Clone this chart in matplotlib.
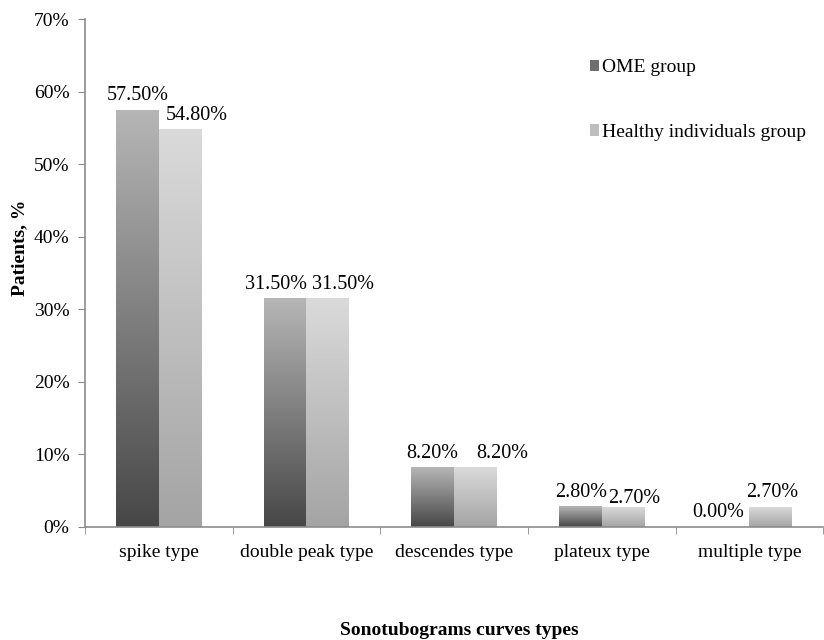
import numpy as np
import matplotlib.pyplot as plt
from matplotlib.patches import Rectangle
from matplotlib.colors import LinearSegmentedColormap

plt.rcParams['font.family'] = ['Liberation Serif', 'DejaVu Serif']

categories = ['spike type', 'double peak type', 'descendes type', 'plateux type', 'multiple type']
ome_group = [57.5, 31.5, 8.2, 2.8, 0.0]
healthy_group = [54.8, 31.5, 8.2, 2.7, 2.7]
series_names = ['OME group', 'Healthy individuals group']
y_ticks = [0, 10, 20, 30, 40, 50, 60, 70]

# label nudges (pixels) so neighbouring value labels don't collide
ome_shift = [(0, 10), (-9, 10), (0, 10), (1, 10), (-10, 10)]
healthy_shift = [(17, 10), (15, 10), (27, 10), (11, 4), (1, 10)]

ome_cmap = LinearSegmentedColormap.from_list('ome', ['#474747', '#b6b6b6'])
healthy_cmap = LinearSegmentedColormap.from_list('healthy', ['#a4a4a4', '#dadada'])

fs = 14
fig = plt.figure(figsize=(8.24, 6.4), dpi=100)
ax = fig.add_axes([0.103, 0.1766, 0.896, 0.793])

x = np.arange(len(categories))
w = 0.29
grad = np.linspace(0, 1, 256).reshape(-1, 1)


def gradient_bar(x0, h, cmap):
    if h <= 0:
        return
    ax.imshow(grad, cmap=cmap, origin='lower', aspect='auto',
              extent=[x0, x0 + w, 0, h], zorder=2, interpolation='bicubic')


for i in range(len(categories)):
    gradient_bar(x[i] - w, ome_group[i], ome_cmap)
    gradient_bar(x[i], healthy_group[i], healthy_cmap)
    ax.annotate('%.2f%%' % ome_group[i], (x[i] - w / 2, ome_group[i]),
                xytext=ome_shift[i], textcoords='offset pixels',
                ha='center', va='baseline', fontsize=14.5)
    ax.annotate('%.2f%%' % healthy_group[i], (x[i] + w / 2, healthy_group[i]),
                xytext=healthy_shift[i], textcoords='offset pixels',
                ha='center', va='baseline', fontsize=14.5)

ax.set_xlim(-0.5, len(categories) - 0.5)
ax.set_ylim(0, 70)
ax.set_yticks(y_ticks)
ax.set_yticklabels(['%d%%' % t for t in y_ticks], fontsize=fs)
ax.set_xticks(x)
ax.set_xticklabels(categories, fontsize=fs)
ax.set_xticks(np.arange(len(categories) + 1) - 0.5, minor=True)
ax.tick_params(axis='x', which='major', length=0, pad=12)
ax.tick_params(axis='x', which='minor', length=5, color='#888888', direction='out')
ax.tick_params(axis='y', length=5, color='#888888', direction='out', pad=6)

for s in ['top', 'right']:
    ax.spines[s].set_visible(False)
for s in ['left', 'bottom']:
    ax.spines[s].set_color('#8c8c8c')
    ax.spines[s].set_linewidth(1.2)

ax.set_ylabel('Patients, %', fontsize=fs, fontweight='bold')
ax.yaxis.set_label_coords(-0.077, 0.55)
fig.text(0.557, 0.002, 'Sonotubograms curves types', fontsize=fs,
         fontweight='bold', ha='center', va='bottom')

handles = [Rectangle((0, 0), 1, 1, facecolor='#6e6e6e'),
           Rectangle((0, 0), 1, 1, facecolor='#bdbdbd')]
ax.legend(handles, series_names, loc='upper left', bbox_to_anchor=(0.66, 0.956),
          frameon=False, fontsize=fs, handlelength=0.5, handleheight=0.5,
          handletextpad=0.15, labelspacing=2.45)

fig.savefig('out.png', dpi=100)
